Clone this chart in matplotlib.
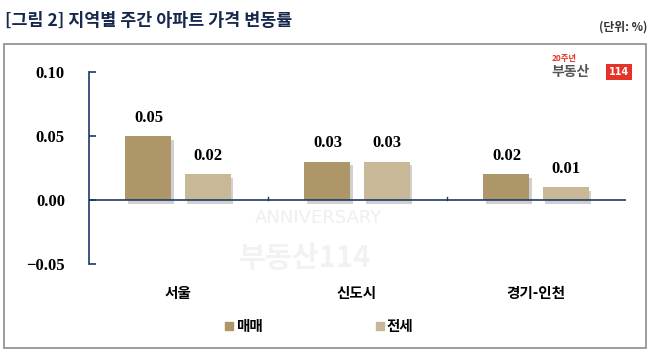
import matplotlib
matplotlib.use("Agg")
import matplotlib.pyplot as plt
from matplotlib.patches import Rectangle
import numpy as np

categories = ["서울", "신도시", "경기-인천"]
series_names = ["매매", "전세"]
sale = [0.05, 0.03, 0.02]
jeonse = [0.02, 0.03, 0.01]
yticks = [-0.05, 0.00, 0.05, 0.10]

KR = ["Noto Sans CJK KR", "DejaVu Sans"]
NUM = ["Liberation Serif", "DejaVu Serif"]
navy = "#1c3a66"
c_sale = "#ad9668"
c_jeonse = "#c8b898"

W, H = 656, 362
fig = plt.figure(figsize=(W/100, H/100), dpi=100)

def fx(px): return px / W
def fy(py): return 1 - py / H

# outer frame
fig.patches.append(Rectangle((fx(4), fy(348)), fx(646) - fx(4), fy(44) - fy(348),
                             transform=fig.transFigure, fill=False, edgecolor="#8c8c8c", lw=1.2))

fig.text(fx(5), fy(21), "[그림 2] 지역별 주간 아파트 가격 변동률", family=KR, weight="bold",
         fontsize=12.5, color="#16294d", va="center", ha="left")
fig.text(fx(647), fy(27), "(단위: %)", family=KR, weight="bold", fontsize=8.5, color="#333333",
         va="center", ha="right")

# faint watermark
fig.text(fx(318), fy(218), "ANNIVERSARY", family=["DejaVu Sans"], fontsize=13,
         color="#efefef", ha="center", va="center", zorder=-1)
fig.text(fx(305), fy(258), "부동산114", family=KR, weight="bold", fontsize=21,
         color="#f2f2f2", ha="center", va="center", zorder=-1)

# logo
fig.text(fx(552), fy(59), "20주년", family=KR, weight="bold", fontsize=6,
         color="#e53329", ha="left", va="center")
fig.text(fx(551), fy(72), "부동산", family=KR, weight="bold", fontsize=10,
         color="#555555", ha="left", va="center")
fig.text(fx(619), fy(72), "114", family=["DejaVu Sans"], weight="bold", fontsize=7,
         color="white", ha="center", va="center",
         bbox=dict(boxstyle="square,pad=0.3", fc="#e53329", ec="none"))

ax = fig.add_axes([fx(88.5), fy(264), fx(625.5) - fx(88.5), fy(72) - fy(264)])
ax.patch.set_alpha(0)
ax.set_xlim(-0.5, 2.5)
ax.set_ylim(-0.05, 0.10)

x = np.arange(len(categories))
bw = 0.257
off = 0.165
# shadows
sh_dx = 0.012
sh_dy = -0.0028
for xs, vals in ((x - off, sale), (x + off, jeonse)):
    ax.bar(xs + sh_dx, vals, bw, bottom=sh_dy, color="#d0d0d0", zorder=1)
ax.bar(x - off, sale, bw, color=c_sale, zorder=2)
ax.bar(x + off, jeonse, bw, color=c_jeonse, zorder=2)
for xs, vals in ((x - off, sale), (x + off, jeonse)):
    for xi, v in zip(xs, vals):
        ax.text(xi, v + 0.008, f"{v:.2f}", family=NUM, weight="bold", fontsize=12,
                ha="center", va="bottom", color="black")

for s in ["top", "right", "bottom"]:
    ax.spines[s].set_visible(False)
ax.spines["left"].set_color(navy)
ax.spines["left"].set_linewidth(1.2)
ax.axhline(0, color=navy, lw=1.2, zorder=3)
for xt in (0.5, 1.5):
    ax.plot([xt, xt], [0, 0.0025], color=navy, lw=1.0, zorder=3)

ax.set_yticks(yticks)
ax.set_yticklabels([f"{t:.2f}".replace("-", "−") for t in yticks], family=NUM,
                   weight="bold", fontsize=12)
ax.tick_params(axis="y", direction="in", length=5, color=navy, width=1.2, pad=17)
ax.set_xticks([])
for xi, c in zip(x, categories):
    ax.text(xi, -0.0727, c, family=KR, weight="bold", fontsize=10.5, ha="center",
            va="center", transform=ax.transData, clip_on=False)

# legend
leg_y = fy(326)
for px, name, col in ((229, series_names[0], c_sale), (380, series_names[1], c_jeonse)):
    fig.patches.append(Rectangle((fx(px - 4), leg_y - 4/H), 8/W, 8/H,
                                 transform=fig.transFigure, color=col))
    fig.text(fx(px + 7), leg_y, name, family=KR, weight="bold", fontsize=10.5,
             ha="left", va="center")

fig.savefig("out.png", dpi=100)
